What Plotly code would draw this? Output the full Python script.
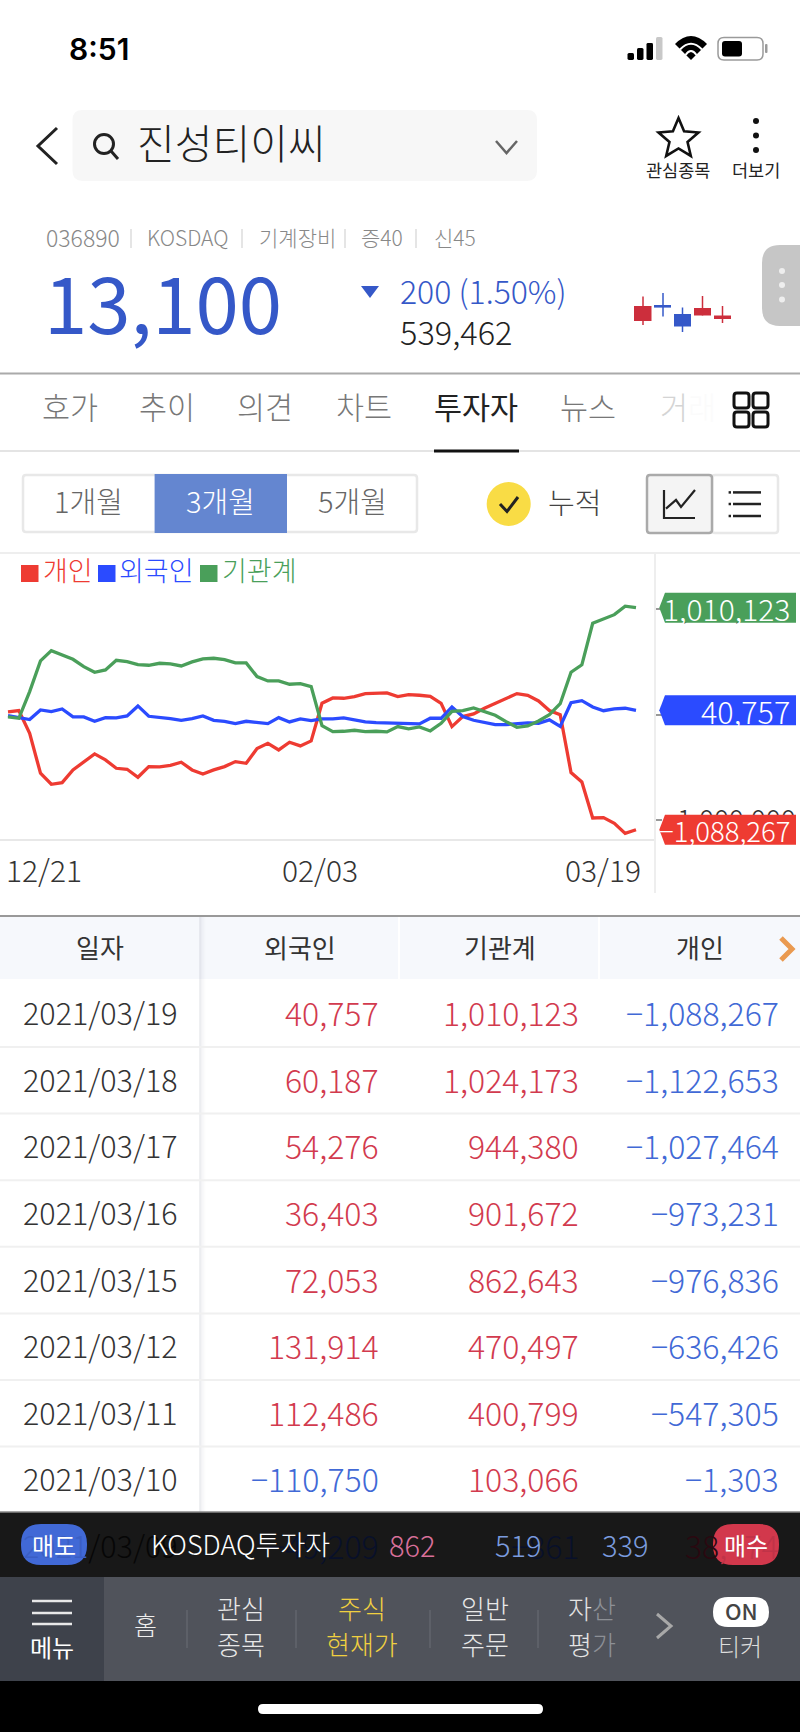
import math
import plotly.graph_objects as go

W, H = 800, 1732
FONT = "Noto Sans CJK KR"

# ---------- chart data (cumulative net buying) ----------
dates = ["12/21","12/22","12/23","12/24","12/28","12/29","12/30",
         "01/04","01/05","01/06","01/07","01/08","01/11","01/12","01/13","01/14","01/15",
         "01/18","01/19","01/20","01/21","01/22","01/25","01/26","01/27","01/28","01/29",
         "02/01","02/02","02/03","02/04","02/05","02/08","02/09","02/10",
         "02/15","02/16","02/17","02/18","02/19","02/22","02/23","02/24","02/25","02/26",
         "03/02","03/03","03/04","03/05","03/08","03/09","03/10","03/11","03/12",
         "03/15","03/16","03/17","03/18","03/19"]
individual = [25200,37800,-176400,-554400,-658350,-642600,-522900,-444150,-371700,-428400,
              -507150,-516600,-592200,-491400,-494550,-478800,-450450,-522900,-560700,-522900,
              -491400,-444150,-459900,-321300,-270900,-333900,-261450,-296100,-248850,107100,
              157500,154350,170100,198450,198450,204750,170100,189000,182700,173250,
              107100,-113400,-18900,6300,59850,107100,154350,198450,182700,129150,
              38474,-1303,-547305,-636426,-976836,-973231,-1027464,-1122653,-1088267]
foreign = [-9450,-25200,-47250,44100,28350,53550,-22050,-22050,-63000,-28350,
           -31500,-12600,81900,-15750,-25200,-37800,-53550,-37800,-12600,-53550,
           -63000,-85050,-63000,-72450,-85050,-28350,-69300,-40950,-56700,-40950,
           -40950,-31500,-53550,-69300,-75600,-78750,-88200,-88200,-88200,-34650,
           -34650,72450,-18900,-53550,-75600,-94500,-94500,-85050,-78750,-81900,
           -49209,-110750,112486,131914,72053,36403,54276,60187,40757]
institution = [-22050,-34650,217350,507150,604800,560700,522900,453600,400050,422100,
               513450,500850,472500,466200,485100,478800,459900,497700,526050,532350,
               519750,488250,488250,359100,318150,318150,286650,292950,264600,-103950,
               -160650,-157500,-148050,-160650,-157500,-163800,-113400,-135450,-116550,-154350,
               -81900,31500,37800,63000,25200,-6300,-66150,-119700,-107100,-59850,
               -861,103066,400799,470497,862643,901672,944380,1024173,1010123]
series_names = ["개인", "외국인", "기관계"]
x_labels = ["12/21", "02/03", "03/19"]
y_ticks = [-1000000, 0, 1000000]
y_ticktext = ["-1,000,000", "0", "1,000,000"]

# ---------- table ----------
table_head = ["일자", "외국인", "기관계", "개인"]
table_dates = ["2021/03/19","2021/03/18","2021/03/17","2021/03/16","2021/03/15",
               "2021/03/12","2021/03/11","2021/03/10"]
table_foreign = [40757,60187,54276,36403,72053,131914,112486,-110750]
table_inst = [1010123,1024173,944380,901672,862643,470497,400799,103066]
table_indiv = [-1088267,-1122653,-1027464,-973231,-976836,-636426,-547305,-1303]

RED, BLUE, GREEN = "#ee3b32", "#2b4bff", "#4a9f5a"
UP, DOWN = "#d23a4e", "#4169d6"

shapes, notes = [], []
def X(x): return x / W
def Y(y): return 1 - y / H

def txt(x, y, s, size, color="#333333", anchor="center", weight=300, fam=FONT, dy=None):
    off = 0.09 * size if dy is None else dy
    notes.append(dict(x=X(x), y=Y(y - off), xref="paper", yref="paper", text=s, showarrow=False,
                      xanchor=anchor, yanchor="middle", borderpad=0,
                      font=dict(family=fam, size=size, color=color, weight=weight)))

def path(d, fill=None, line=None, lw=0, layer="above"):
    s = dict(type="path", path=d, xref="paper", yref="paper", layer=layer,
             line=dict(color=line if line else "rgba(0,0,0,0)", width=lw))
    if fill: s["fillcolor"] = fill
    shapes.append(s)

def poly(pts, fill=None, line=None, lw=0, close=False):
    d = "M" + " L".join(f"{X(a):.5f},{Y(b):.5f}" for a, b in pts) + (" Z" if close else "")
    path(d, fill, line, lw)

def rr(x0, y0, x1, y1, r, fill=None, line=None, lw=0):
    P = lambda a, b: f"{X(a):.5f},{Y(b):.5f}"
    d = (f"M{P(x0+r,y0)} L{P(x1-r,y0)} Q{P(x1,y0)} {P(x1,y0+r)} L{P(x1,y1-r)} Q{P(x1,y1)} {P(x1-r,y1)} "
         f"L{P(x0+r,y1)} Q{P(x0,y1)} {P(x0,y1-r)} L{P(x0,y0+r)} Q{P(x0,y0)} {P(x0+r,y0)} Z")
    path(d, fill, line, lw)

def rect(x0, y0, x1, y1, fill):
    shapes.append(dict(type="rect", xref="paper", yref="paper", layer="above", x0=X(x0), x1=X(x1),
                       y0=Y(y0), y1=Y(y1), fillcolor=fill, line=dict(width=0)))

def seg(x0, y0, x1, y1, color, lw=2):
    shapes.append(dict(type="line", xref="paper", yref="paper", layer="above", x0=X(x0), x1=X(x1),
                       y0=Y(y0), y1=Y(y1), line=dict(color=color, width=lw)))

def circ(cx, cy, r, fill, line=None, lw=0):
    shapes.append(dict(type="circle", xref="paper", yref="paper", layer="above",
                       x0=X(cx-r), x1=X(cx+r), y0=Y(cy-r), y1=Y(cy+r), fillcolor=fill,
                       line=dict(color=line if line else "rgba(0,0,0,0)", width=lw)))

# ---------- status bar ----------
txt(99, 49, "8:51", 30, "#000000", weight=600, fam="Inter", dy=0)
for i, (x0, top, col) in enumerate([(627.5, 53, "#000"), (637, 48, "#000"), (646.5, 43, "#000"), (656, 37, "#c8c8c8")]):
    rr(x0, top, x0 + 6.5, 60, 1.5, col)
path(f"M{X(675)},{Y(44)} Q{X(691)},{Y(28)} {X(707)},{Y(44)} L{X(691)},{Y(60)} Z", "#000000")
path(f"M{X(680)},{Y(49.5)} Q{X(691)},{Y(38)} {X(702)},{Y(49.5)}", None, "#ffffff", 2)
path(f"M{X(685.5)},{Y(55)} Q{X(691)},{Y(47)} {X(696.5)},{Y(55)}", None, "#ffffff", 2)
rr(718, 37.5, 763, 60, 6, "#ffffff", "#9a9a9a", 1.5)
rr(722, 41, 742, 56.5, 3, "#000000")
rr(765, 44, 767.5, 53, 1, "#9a9a9a")

# ---------- header ----------
poly([(57, 128), (38, 146), (57, 164)], None, "#222222", 3)
rr(72.5, 110, 537, 181, 10, "#f7f7f7")
circ(104, 144, 9.5, "rgba(0,0,0,0)", "#222222", 3)
seg(111, 151, 118, 159, "#222222", 3)
txt(232, 145, "진성티이씨", 41, "#222222", weight=300)
poly([(496, 141), (506.5, 153), (517, 141)], None, "#666666", 2.5)
star = []
for k in range(10):
    r = 21 if k % 2 == 0 else 9.5
    a = -math.pi / 2 + k * math.pi / 5
    star.append((678.5 + r * math.cos(a), 139 + r * math.sin(a)))
poly(star, None, "#111111", 2.6, close=True)
txt(678, 171, "관심종목", 17.5, "#222222", weight=400)
txt(756, 171, "더보기", 17.5, "#222222", weight=400)
for cy in (121, 135.5, 150):
    circ(756, cy, 3, "#111111")

# ---------- quote ----------
txt(45, 239, "036890", 23, "#888888", "left")
for x, s in [(145.5, "KOSDAQ"), (257.5, "기계장비"), (359.5, "증40"), (432.5, "신45")]:
    txt(x, 239, s, 21, "#888888", "left")
for x in (131, 242, 345, 416):
    seg(x, 229, x, 248, "#dddddd", 1.5)
txt(163, 307, "13,100", 78, "#3558c8", weight=400)
poly([(361, 286), (379, 286), (370, 298)], "#3558c8", close=True)
txt(399, 293, "200 (1.50%)", 32, "#3558c8", "left")
txt(399, 333.5, "539,462", 32.5, "#222222", "left")
CR, CB = "#cc2e3c", "#3558c8"
candles = [(634, 651.5, 306, 321, 643, 296.5, 325, CR), (654, 671, 305, 307.6, 663, 293, 316.5, CB),
           (674, 691, 314, 326.5, 682.5, 307.5, 332, CB), (694, 711, 308, 315.5, 702.5, 296, 315.5, CR),
           (714, 731, 315.5, 319, 722.5, 306, 323, CR)]
for x0, x1, y0, y1, xw, w0, w1, c in candles:
    seg(xw, w0, xw, w1, c, 1.5)
    rect(x0, y0, x1, y1, c)
P = lambda a, b: f"{X(a):.5f},{Y(b):.5f}"
path(f"M{P(800,245)} L{P(780,245)} Q{P(762,245)} {P(762,263)} L{P(762,308)} Q{P(762,326)} {P(780,326)} L{P(800,326)} Z", "#c6c6c6")
for cy in (271, 285, 299.6):
    circ(782, cy, 3, "#eeeeee")

# ---------- tabs ----------
seg(0, 373.5, 800, 373.5, "#aaaaaa", 2)
for x, s in [(70, "호가"), (167, "추이"), (265, "의견"), (364, "차트"), (588, "뉴스")]:
    txt(x, 409, s, 30.5, "#777777")
txt(476, 409, "투자자", 30.5, "#222222", weight=400)
txt(688, 409, "<span style='color:#d4d4d4'>거</span><span style='color:#fbfbfb'>래</span>", 30.5)
for x0, y0 in [(734, 393), (753, 393), (734, 412), (753, 412)]:
    rr(x0, y0, x0 + 15, y0 + 15, 3, None, "#111111", 3)
seg(0, 451, 800, 451, "#e4e4e4", 2)
seg(434, 451, 519, 451, "#111111", 3)

# ---------- controls ----------
rr(23, 475, 417, 532, 3, "#ffffff", "#e8e8e8", 2.5)
rect(154.6, 474, 287, 533, "#6486d0")
txt(88, 503, "1개월", 29, "#666666")
txt(220, 503, "3개월", 29, "#ffffff")
txt(352, 503, "5개월", 29, "#666666")
circ(508.7, 504, 22, "#f9dc45")
poly([(500, 504), (507, 511.5), (518, 497)], None, "#222222", 3)
txt(574, 504, "누적", 29, "#444444")
rr(712, 475, 778, 533, 3, "#ffffff", "#e8e8e8", 2.5)
rr(647, 475, 712, 533, 3, "#f4f4f4", "#aaaaaa", 2.5)
poly([(664, 490), (664, 518), (695, 518)], None, "#222222", 2.2)
poly([(666, 508.6), (676, 500), (681, 507), (695, 490)], None, "#222222", 2.2)
for y in (492.4, 504, 516):
    seg(733, y, 761, y, "#222222", 2.5)
    seg(728.6, y, 731, y, "#222222", 2.5)

# ---------- chart frame ----------
seg(0, 553, 800, 553, "#eeeeee", 2)
seg(655, 553, 655, 893, "#eeeeee", 2)
for sq, lx, s, c in [(21, 42, series_names[0], RED), (98, 118, series_names[1], BLUE),
                     (200, 221, series_names[2], GREEN)]:
    rect(sq, 565, sq + 17.5, 582, c)
    txt(lx, 572, s, 27, c, "left")

# ---------- chart labels ----------
for lab, anc, cx in zip(x_labels, ["left", "center", "right"], [5, 320, 642]):
    txt(cx, 872, lab, 30, "#333333", anc)

# ---------- value tags on the right axis ----------
ZERO_Y, PER_PX = 714.6, 9450
tag_x0, tag_x1, tip = 665, 796, 659.3
for val, col, fs in [(institution[-1], GREEN, 30), (foreign[-1], BLUE, 30.5), (individual[-1], RED, 27.5)]:
    cy = ZERO_Y - val / PER_PX
    poly([(tip, cy), (tag_x0, cy - 15), (tag_x1, cy - 15), (tag_x1, cy + 15), (tag_x0, cy + 15)], col, close=True)
    txt(791, cy, f"{val:,}".replace("-", "−"), fs, "#ffffff", "right", dy=-0.5)

# ---------- table ----------
seg(0, 916, 800, 916, "#999999", 2)
rect(0, 917, 800, 979, "#f6f8fc")
for x in (399, 599):
    seg(x, 917, x, 979, "#ffffff", 2)
for i, a in enumerate([0.16, 0.09, 0.05, 0.025]):
    seg(200 + i * 1.5, 917, 200 + i * 1.5, 1512, f"rgba(120,125,140,{a})", 1.5)
for x, s in zip((100, 300, 500, 700), table_head):
    txt(x, 949, s, 26, "#333333", weight=400)
poly([(781, 938), (792, 949), (781, 960)], None, "#ea9a50", 5)
ROW0, PITCH = 1015, 66.6
for i, (d, a, b, c) in enumerate(zip(table_dates, table_foreign, table_inst, table_indiv)):
    y = ROW0 + i * PITCH
    seg(0, y + 32, 800, y + 32, "#f0f0f0", 2)
    txt(100, y, d, 30.5, "#333333")
    for x, v in ((380, a), (580, b), (780, c)):
        txt(x, y, f"{v:,}".replace("-", "−"), 32, UP if v > 0 else DOWN, "right")

# ---------- ticker bar (row 03/09 shows dimly through it) ----------
rect(0, 1512, 800, 1577, "#181818")
seg(0, 1512, 800, 1512, "#888888", 1.5)
yy = ROW0 + 8 * PITCH
rr(21, 1524, 87, 1565, 20, "#4169d6")
rr(713, 1524, 779, 1565, 20, "#d2384c")
txt(100, yy, "<span style='color:#3a5ec4'>2021</span><span style='color:#060606'>/03/09</span>", 30.5)
txt(380, yy, "−49,209", 32, "#08102a", "right")
txt(580, yy, "−861", 32, "#08102a", "right")
txt(780, yy, "<span style='color:#2a0810'>38</span><span style='color:#c03348'>,474</span>", 32, anchor="right")
txt(54, 1544, "매도", 24, "#ffffff", weight=400, dy=0)
txt(746, 1544, "매수", 24, "#ffffff", weight=400, dy=0)
txt(240, 1543, "KOSDAQ투자자", 27, "#ffffff", dy=0)
txt(412, 1545, "862", 29, "#d9709a", dy=1)
txt(518, 1545, "519", 29, "#7a9bde", dy=1)
txt(625, 1545, "339", 29, "#7a9bde", dy=1)

# ---------- bottom nav ----------
rect(0, 1577, 800, 1681, "#50535b")
rect(0, 1577, 104, 1681, "#3e424b")
rect(0, 1681, 800, 1732, "#000000")
rr(258, 1704, 543, 1714, 5, "#ffffff")
for y in (1601, 1613, 1624):
    seg(32, y, 72, y, "#e8e8e8", 2.5)
txt(52, 1649, "메뉴", 24, "#ffffff", weight=400)
txt(145, 1628, "홈", 25, "#eeeeee", dy=4)
for x in (187, 296, 430, 538):
    seg(x, 1610, x, 1648, "#62656c", 1.5)
for x, a, b, c in [(241, "관심", "종목", "#e8e8e8"), (362, "주식", "현재가", "#f0d040"), (485, "일반", "주문", "#e8e8e8")]:
    txt(x, 1612, a, 26, c, dy=4.4)
    txt(x, 1648, b, 26, c, dy=4.4)
txt(592, 1612, "<span style='color:#e4e4e4'>자</span><span style='color:#8d9096'>산</span>", 26, dy=4.4)
txt(592, 1648, "<span style='color:#e4e4e4'>평</span><span style='color:#8d9096'>가</span>", 26, dy=4.4)
poly([(657, 1614), (671, 1626), (657, 1638)], None, "#a8a8a8", 3)
rr(713, 1597, 769, 1627, 15, "#ffffff")
txt(741, 1612, "ON", 22, "#444444", weight=500)
txt(740, 1648, "티커", 24, "#dddddd")

# ---------- figure ----------
fig = go.Figure()
for name, vals, col in zip(series_names, [individual, foreign, institution], [RED, BLUE, GREEN]):
    fig.add_trace(go.Scatter(x=dates, y=vals, name=name, mode="lines",
                             line=dict(color=col, width=3.3), hoverinfo="skip"))

PX = 628 / 58
fig.update_layout(
    width=W, height=H, margin=dict(l=0, r=0, t=0, b=0),
    paper_bgcolor="#ffffff", plot_bgcolor="#ffffff", showlegend=False,
    shapes=shapes, annotations=notes,
    xaxis=dict(domain=[0, 655 / W], type="category", categoryorder="array", categoryarray=dates,
               range=[-8 / PX, 58 + 19 / PX], showgrid=False, zeroline=False,
               showticklabels=False, ticks="", showline=True, linecolor="#e8e8e8", linewidth=2),
    yaxis=dict(domain=[Y(838.7), Y(553)], side="right",
               range=[-(838.7 - ZERO_Y) * PER_PX, (ZERO_Y - 553) * PER_PX],
               tickmode="array", tickvals=y_ticks, ticktext=y_ticktext, showgrid=False, zeroline=False,
               ticks="outside", ticklen=6, tickcolor="#999999", tickwidth=1.5,
               tickfont=dict(family=FONT, size=28, color="#333333", weight=300)),
)
fig.write_html("out.html", config={"displayModeBar": False},
               post_script="document.body.style.margin='0';document.documentElement.style.overflow='hidden';")
